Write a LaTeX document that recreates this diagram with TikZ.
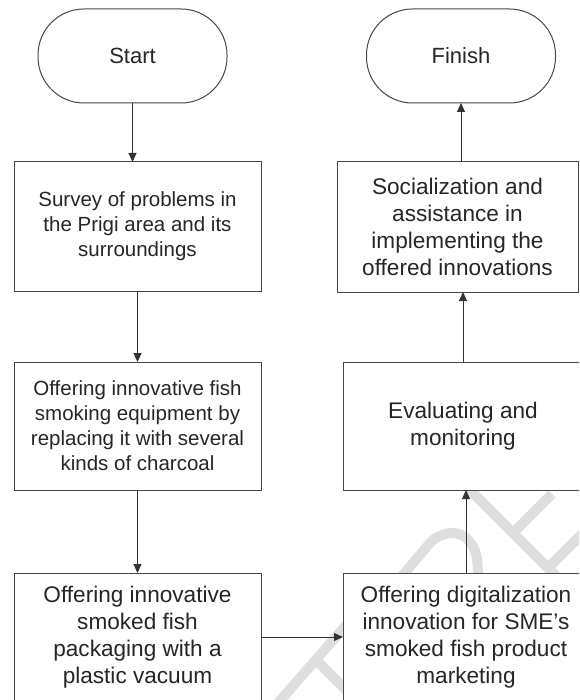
\documentclass[tikz,border=0pt]{standalone}
\usepackage{fontspec}
\setmainfont{Liberation Sans}
\usetikzlibrary{arrows.meta}
\begin{document}
\begin{tikzpicture}[x=1pt,y=-1pt,
  box/.style={draw=black!72,line width=1pt,fill=white,text=black!85,align=center,inner sep=0pt,outer sep=0pt},
  term/.style={box,rounded corners=46pt,minimum width=189pt,minimum height=94pt,font=\fontsize{22}{26}\selectfont},
  smalltxt/.style={font=\fontsize{20.5}{25}\selectfont},
  bigtxt/.style={font=\fontsize{22.6}{27}\selectfont},
  arr/.style={draw=black!80,line width=1pt,-{Triangle[length=9pt,width=8pt]}},
  wm/.style={draw=black!13,line width=10pt}]
\useasboundingbox (0,0) rectangle (579,700);
\clip (0,0) rectangle (579,700);
% watermark
\draw[wm] (270,712) -- (356,614);
\draw[wm] (315,659) -- (352,696);
\draw[wm] (392,588) -- (430,543) .. controls (440,532) and (462,527) .. (472,545) .. controls (477,553) and (478,560) .. (478,585);
\draw[wm] (465,485) -- (560,580);
\draw[wm] (513,533) -- (552,494);
\draw[wm] (548,568) -- (588,528);
% nodes
\node[term] (start) at (132.5,56) {Start};
\node[term] (fi) at (461,56) {Finish};
\node[box,smalltxt,minimum width=247pt,minimum height=129pt] (b1) at (137.5,226.5)
  {Survey of problems in\\the Prigi area and its\\surroundings};
\node[box,smalltxt,minimum width=247pt,minimum height=128pt] (b2) at (137.5,426)
  {Offering innovative fish\\smoking equipment by\\replacing it with several\\kinds of charcoal};
\node[box,bigtxt,minimum width=247pt,minimum height=128pt] (b3) at (137.5,637)
  {Offering innovative\\smoked fish\\packaging with a\\plastic vacuum};
\node[box,bigtxt,minimum width=246pt,minimum height=128pt] (rb) at (466,637)
  {Offering digitalization\\innovation for SME{\char"0027}s\\smoked fish product\\marketing};
\node[box,bigtxt,minimum width=240pt,minimum height=128pt] (ev) at (463,426)
  {Evaluating and\\monitoring};
\node[box,bigtxt,minimum width=241pt,minimum height=130pt] (so) at (457.5,227)
  {Socialization and\\assistance in\\implementing the\\offered innovations};
% connectors
\draw[arr] (start.south) -- (start.south |- b1.north);
\draw[arr] (b1.south) -- (b2.north);
\draw[arr] (b2.south) -- (b3.north);
\draw[arr] (b3.east) -- (b3.east -| rb.west);
\draw[arr] (rb.north) -- (rb.north |- ev.south);
\draw[arr] (ev.north) -- (ev.north |- so.south);
\draw[arr] (fi.south |- so.north) -- (fi.south);
\end{tikzpicture}
\end{document}
